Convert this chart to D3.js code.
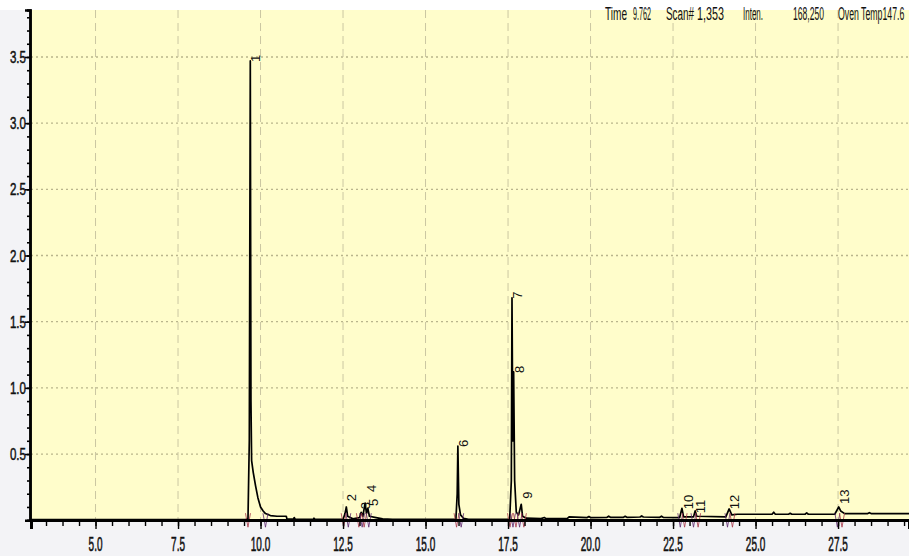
<!DOCTYPE html>
<html lang="en">
<head>
<meta charset="UTF-8">
<title>Chromatogram</title>
<script src="https://cdn.jsdelivr.net/npm/d3@7/dist/d3.min.js"></script>
<style>
  body { margin: 0; padding: 0; overflow: hidden; background: #f3f3f6; }
  text { font-family: "Liberation Sans", Arial, sans-serif; fill: #111; }
</style>
</head>
<body>
<svg id="chart" width="909" height="556"></svg>
<script>
// retention time (min) and intensity (x1,000,000) of the trace
const traceTime = [3.05, 9.55, 9.62, 9.66, 9.69, 9.71, 9.73, 9.78, 9.85, 9.92, 10.0, 10.08, 10.15, 10.3, 10.5, 10.78, 10.8,
  11.0, 11.02, 11.05, 11.6, 11.62, 11.65, 12.5, 12.56, 12.6, 12.64, 12.8, 13.0, 13.05, 13.1, 13.17, 13.21, 13.25, 13.3,
  13.5, 13.7, 14.0, 15.92, 15.96, 15.98, 16.01, 16.06, 16.15, 16.3, 17.55, 17.6, 17.62, 17.645, 17.67, 17.7, 17.75,
  17.82, 17.9, 17.94, 18.05, 18.5, 18.6, 18.65, 19.3, 19.35, 19.9, 19.95, 20.0, 20.5, 20.55, 20.6, 21.0, 21.05, 21.1,
  21.5, 21.55, 21.6, 22.1, 22.15, 22.2, 22.7, 22.77, 22.82,
  23.12, 23.17, 23.22, 24.1, 24.2, 24.28, 24.45, 25.5, 25.55, 25.6, 26.0, 26.05, 26.1, 26.5, 26.55, 26.6, 27.4, 27.52,
  27.58, 27.7, 28.4, 28.45, 28.5, 29.65];
const traceInten = [0.004, 0.004, 0.01, 0.6, 3.47, 0.9, 0.45, 0.36, 0.26, 0.17, 0.1, 0.07, 0.05, 0.035, 0.03, 0.03, 0.01,
  0.008, 0.02, 0.008, 0.006, 0.015, 0.006, 0.006, 0.05, 0.1, 0.03, 0.01, 0.02, 0.06, 0.03, 0.13, 0.05, 0.09, 0.03,
  0.02, 0.01, 0.006, 0.006, 0.2, 0.56, 0.12, 0.04, 0.015, 0.006, 0.008, 0.3, 1.68, 0.6, 1.12, 0.3, 0.06,
  0.04, 0.12, 0.03, 0.015, 0.012, 0.02, 0.012, 0.014, 0.025, 0.02, 0.028, 0.02, 0.022, 0.03, 0.022, 0.022, 0.029, 0.022,
  0.024, 0.032, 0.024, 0.022, 0.03, 0.022, 0.02, 0.09, 0.025,
  0.025, 0.07, 0.03, 0.025, 0.085, 0.04, 0.045, 0.045, 0.06, 0.045, 0.045, 0.052, 0.045, 0.045, 0.055, 0.045, 0.045, 0.1,
  0.07, 0.05, 0.05, 0.057, 0.05, 0.05];

// peak numbers with their time and the height their label sits at
const peakNo = ["1", "2", "3", "4", "5", "6", "7", "8", "9", "10", "11", "12", "13"];
const peakTime = [9.69, 12.6, 13.02, 13.2, 13.25, 15.98, 17.62, 17.67, 17.92, 22.8, 23.17, 24.2, 27.52];
const peakTop = [3.47, 0.15, 0.09, 0.22, 0.115, 0.56, 1.68, 1.12, 0.17, 0.09, 0.06, 0.09, 0.13];

// peak start / end markers
const markTime = [9.62, 10.15, 12.52, 12.66, 12.98, 13.08, 13.14, 13.28, 15.94, 16.08, 17.56, 17.65, 17.74, 17.85,
  17.98, 22.72, 22.85, 23.12, 23.26, 24.15, 24.3, 27.48, 27.62];

const xTicks = [5.0, 7.5, 10.0, 12.5, 15.0, 17.5, 20.0, 22.5, 25.0, 27.5];
const yTicks = [0.5, 1.0, 1.5, 2.0, 2.5, 3.0, 3.5];
const headerText = ["Time", "9.762", "Scan#", "1,353", "Inten.", "168,250", "Oven Temp147.6"];

const svg = d3.select("#chart");
const plotL = 31, plotT = 10, plotR = 909, plotB = 520;

const x = d3.scaleLinear().domain([3.045, 29.65]).range([plotL, plotR]);
const y = d3.scaleLinear().domain([0, 3.855]).range([520.2, plotT]);

// backgrounds
svg.append("rect").attr("width", 909).attr("height", plotT).attr("fill", "#ffffff");
svg.append("rect").attr("x", plotL).attr("y", plotT)
  .attr("width", plotR - plotL).attr("height", plotB - plotT).attr("fill", "#fffdcb");

// grid
svg.append("g").selectAll("line").data(yTicks).join("line")
  .attr("x1", plotL).attr("x2", plotR)
  .attr("y1", d => y(d)).attr("y2", d => y(d))
  .attr("stroke", "#b9b58c").attr("stroke-width", 1.3).attr("stroke-dasharray", "2,3");
svg.append("g").selectAll("line").data(xTicks).join("line")
  .attr("x1", d => x(d)).attr("x2", d => x(d))
  .attr("y1", plotT).attr("y2", plotB)
  .attr("stroke", "#cbc7a2").attr("stroke-width", 1).attr("stroke-dasharray", "8,5");

// header, each item fitted into the width it takes in the instrument window
const headerX = [605, 633, 666, 697, 743, 793, 838];
const headerW = [22, 18, 28, 27, 20, 31, 0];
const header = svg.append("g").selectAll("g").data(headerText).join("g")
  .attr("transform", (d, i) => `translate(${headerX[i]},20)`);
header.append("text").attr("font-size", 19).attr("fill", "#222").text(d => d)
  .attr("transform", function (d, i) {
    const len = this.getComputedTextLength();
    const sx = headerW[i] ? headerW[i] / len : 0.46;
    return `scale(${sx},1)`;
  });

// trace
svg.append("clipPath").attr("id", "plot").append("rect")
  .attr("x", plotL).attr("y", plotT).attr("width", plotR - plotL).attr("height", plotB - plotT + 2);
const line = d3.line().x(d => x(d[0])).y(d => y(d[1]));
svg.append("path")
  .datum(d3.zip(traceTime, traceInten))
  .attr("clip-path", "url(#plot)")
  .attr("d", line)
  .attr("fill", "none").attr("stroke", "#000").attr("stroke-width", 1.7)
  .attr("stroke-linejoin", "round");

// peak markers
const marks = svg.append("g").attr("stroke-width", 1).attr("fill", "none");
markTime.forEach((t, i) => {
  const mx = x(t), my = y(0);
  const col = i % 2 ? "#5e2a6e" : "#a83a4a";
  marks.append("path")
    .attr("d", `M${mx - 2.5},${my - 7}L${mx},${my + 7}L${mx + 2.5},${my - 7}`)
    .attr("stroke", col).attr("opacity", 0.8);
});

// peak labels
svg.append("g").selectAll("text").data(peakNo).join("text")
  .attr("transform", (d, i) => `translate(${x(peakTime[i]) + 10},${y(peakTop[i]) + 1}) rotate(-90)`)
  .attr("font-size", 13)
  .text(d => d);

// axes (ticks by d3, labels drawn below)
const yMinor = d3.range(1, 39).map(d => d / 10);
const xMinor = d3.range(3.5, 29.6, 0.5);

const yAxis = svg.append("g").attr("transform", `translate(${plotL - 1},0)`);
yAxis.call(d3.axisLeft(y).tickValues(yMinor).tickSize(3).tickFormat(""));
yAxis.call(g => g.append("g").call(d3.axisLeft(y).tickValues(yTicks).tickSize(5).tickFormat("")));
yAxis.selectAll(".domain").attr("stroke", "#000").attr("stroke-width", 2.5);
yAxis.selectAll("line").attr("stroke", "#000").attr("stroke-width", 1.6);

svg.append("g").selectAll("g").data(yTicks).join("g")
  .attr("transform", d => `translate(26,${y(d) + 6})`)
  .append("text").attr("font-size", 17).attr("text-anchor", "end")
  .attr("stroke", "#111").attr("stroke-width", 0.5)
  .attr("transform", "scale(0.68,1)")
  .text(d3.format(".1f"));

const xAxis = svg.append("g").attr("transform", `translate(0,${plotB})`);
xAxis.call(d3.axisBottom(x).tickValues(xMinor).tickSize(6).tickFormat(""));
xAxis.call(g => g.append("g").call(d3.axisBottom(x).tickValues(xTicks).tickSize(9).tickFormat("")));
xAxis.selectAll(".domain").attr("stroke", "#000").attr("stroke-width", 3);
xAxis.selectAll("line").attr("stroke", "#000").attr("stroke-width", 1.4);

svg.append("g").selectAll("g").data(xTicks).join("g")
  .attr("transform", d => `translate(${x(d)},551)`)
  .append("text").attr("font-size", 20).attr("text-anchor", "middle")
  .attr("stroke", "#111").attr("stroke-width", 0.6)
  .attr("transform", "scale(0.5,1)")
  .text(d3.format(".1f"));
</script>
</body>
</html>
